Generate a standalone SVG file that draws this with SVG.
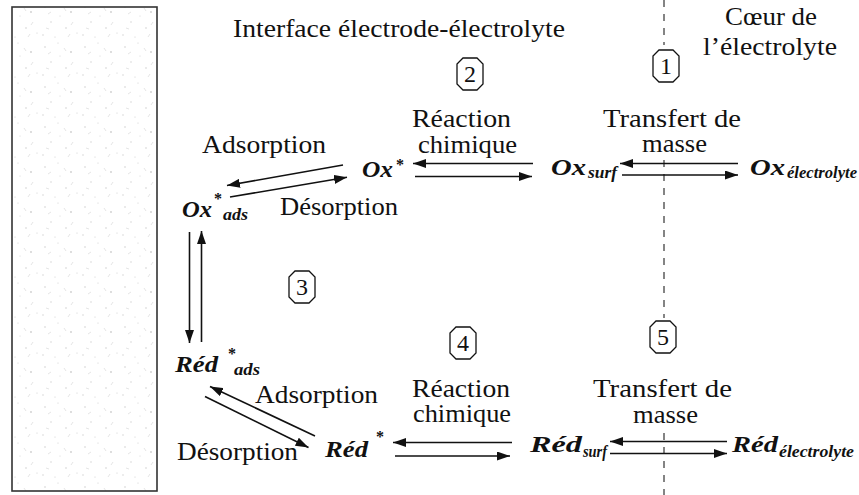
<svg xmlns="http://www.w3.org/2000/svg" width="859" height="495" viewBox="0 0 859 495">
<style>
text{font-family:'Liberation Serif','DejaVu Serif',serif;fill:#111}
.lbl{font-size:25px}
.sp{font-size:24px;font-weight:bold;font-style:italic}
.sub{font-size:16px;font-weight:bold;font-style:italic}
.ast{font-size:16px;font-weight:bold}
.num{font-size:24px;text-anchor:middle}
.oct{fill:#fff;stroke:#111;stroke-width:1.3}
.arr{stroke:#111;stroke-width:1.6;fill:none;marker-end:url(#ah)}
.dash{stroke:#666;stroke-width:1.6;stroke-dasharray:7 7;fill:none}
</style>
<defs>
<marker id="ah" markerUnits="userSpaceOnUse" markerWidth="14" markerHeight="9" refX="13" refY="4.5" orient="auto">
<path d="M0,0 L13,4.5 L0,9 Z" fill="#111"/>
</marker>
<path id="oct" d="M-7,-16 L7,-16 L13,-10 L13,10 L7,16 L-7,16 L-13,10 L-13,-10 Z"/>
<pattern id="speck" width="40" height="40" patternUnits="userSpaceOnUse">
<rect width="40" height="40" fill="#fff"/>
<g fill="#cfcfcf">
<circle cx="5" cy="7" r="0.8"/><circle cx="18" cy="3" r="0.6"/><circle cx="31" cy="12" r="0.9"/>
<circle cx="11" cy="22" r="0.7"/><circle cx="26" cy="28" r="0.8"/><circle cx="37" cy="33" r="0.6"/>
<circle cx="3" cy="35" r="0.7"/><circle cx="20" cy="16" r="0.5"/><circle cx="15" cy="37" r="0.6"/>
</g>
<g stroke="#dadada" stroke-width="0.7">
<path d="M8,14 l3,-2"/><path d="M24,8 l2,3"/><path d="M33,22 l-2,3"/><path d="M6,28 l3,1"/><path d="M28,37 l2,-3"/>
</g>
</pattern>
</defs>
<rect width="859" height="495" fill="#fff"/>

<g id="electrode">
<rect x="12" y="7" width="145" height="484" fill="url(#speck)" stroke="#333" stroke-width="1.6"/>
</g>

<g id="headers">
<text class="lbl" x="233" y="37" textLength="332" lengthAdjust="spacingAndGlyphs">Interface électrode-électrolyte</text>
<text class="lbl" x="725" y="25" textLength="92" lengthAdjust="spacingAndGlyphs">Cœur de</text>
<text class="lbl" x="703" y="55" textLength="134" lengthAdjust="spacingAndGlyphs">l’électrolyte</text>
</g>

<g id="boundary">
<path class="dash" d="M664,0 V45 M664,160 V318 M664,433 V495"/>
</g>

<g id="step1"><use href="#oct" class="oct" x="666" y="66"/><text class="num" x="666" y="74">1</text></g>
<g id="step2"><use href="#oct" class="oct" x="470" y="74"/><text class="num" x="470" y="82">2</text></g>
<g id="step3"><use href="#oct" class="oct" x="302" y="287"/><text class="num" x="302" y="295">3</text></g>
<g id="step4"><use href="#oct" class="oct" x="463" y="343"/><text class="num" x="463" y="351">4</text></g>
<g id="step5"><use href="#oct" class="oct" x="663" y="337"/><text class="num" x="663" y="345">5</text></g>

<g id="ox-star">
<text class="sp" x="362" y="177" textLength="31" lengthAdjust="spacingAndGlyphs">Ox</text>
<text class="ast" x="396" y="170">*</text>
</g>
<g id="ox-ads">
<text class="sp" x="182" y="217" textLength="30" lengthAdjust="spacingAndGlyphs">Ox</text>
<text class="ast" x="214" y="204">*</text>
<text class="sub" x="223" y="220" textLength="25" lengthAdjust="spacingAndGlyphs">ads</text>
</g>
<g id="ox-surf">
<text class="sp" x="551" y="175" textLength="35" lengthAdjust="spacingAndGlyphs">Ox</text>
<text class="sub" x="588" y="178" textLength="29" lengthAdjust="spacingAndGlyphs">surf</text>
</g>
<g id="ox-elec">
<text class="sp" x="750" y="175" textLength="35" lengthAdjust="spacingAndGlyphs">Ox</text>
<text class="sub" x="787" y="178" textLength="70" lengthAdjust="spacingAndGlyphs">électrolyte</text>
</g>
<g id="red-ads">
<text class="sp" x="175" y="372" textLength="43" lengthAdjust="spacingAndGlyphs">Réd</text>
<text class="ast" x="228" y="359">*</text>
<text class="sub" x="234" y="375" textLength="26" lengthAdjust="spacingAndGlyphs">ads</text>
</g>
<g id="red-star">
<text class="sp" x="325" y="457" textLength="43" lengthAdjust="spacingAndGlyphs">Réd</text>
<text class="ast" x="376" y="442">*</text>
</g>
<g id="red-surf">
<text class="sp" x="530" y="452" textLength="52" lengthAdjust="spacingAndGlyphs">Réd</text>
<text class="sub" x="583" y="457" textLength="24" lengthAdjust="spacingAndGlyphs">surf</text>
</g>
<g id="red-elec">
<text class="sp" x="732" y="452" textLength="46" lengthAdjust="spacingAndGlyphs">Réd</text>
<text class="sub" x="779" y="457" textLength="75" lengthAdjust="spacingAndGlyphs">électrolyte</text>
</g>

<g id="connectors">
<line class="arr" x1="533" y1="163.5" x2="413" y2="163.5"/>
<line class="arr" x1="415" y1="176.5" x2="532" y2="176.5"/>
<line class="arr" x1="738" y1="163.5" x2="620" y2="163.5"/>
<line class="arr" x1="622" y1="175" x2="738" y2="175"/>
<line class="arr" x1="343" y1="165" x2="227" y2="185.5"/>
<line class="arr" x1="230" y1="197" x2="347" y2="177.3"/>
<line class="arr" x1="189.5" y1="232" x2="189.5" y2="343"/>
<line class="arr" x1="201.5" y1="342" x2="201.5" y2="231"/>
<line class="arr" x1="315" y1="436" x2="210" y2="386.5"/>
<line class="arr" x1="205" y1="396.5" x2="308.5" y2="447.5"/>
<line class="arr" x1="512" y1="442.5" x2="393" y2="442.5"/>
<line class="arr" x1="395" y1="456" x2="510" y2="456"/>
<line class="arr" x1="727" y1="441.5" x2="610" y2="441.5"/>
<line class="arr" x1="610" y1="453.5" x2="727" y2="453.5"/>
</g>

<g id="labels">
<text class="lbl" x="202" y="153" textLength="124" lengthAdjust="spacingAndGlyphs">Adsorption</text>
<text class="lbl" x="280" y="215" textLength="118" lengthAdjust="spacingAndGlyphs">Désorption</text>
<text class="lbl" x="412" y="127" textLength="99" lengthAdjust="spacingAndGlyphs">Réaction</text>
<text class="lbl" x="418" y="153" textLength="99" lengthAdjust="spacingAndGlyphs">chimique</text>
<text class="lbl" x="603" y="127" textLength="138" lengthAdjust="spacingAndGlyphs">Transfert de</text>
<text class="lbl" x="642" y="152" textLength="65" lengthAdjust="spacingAndGlyphs">masse</text>
<text class="lbl" x="255" y="403" textLength="123" lengthAdjust="spacingAndGlyphs">Adsorption</text>
<text class="lbl" x="177" y="460" textLength="121" lengthAdjust="spacingAndGlyphs">Désorption</text>
<text class="lbl" x="412" y="397" textLength="98" lengthAdjust="spacingAndGlyphs">Réaction</text>
<text class="lbl" x="413" y="422" textLength="98" lengthAdjust="spacingAndGlyphs">chimique</text>
<text class="lbl" x="593" y="397" textLength="139" lengthAdjust="spacingAndGlyphs">Transfert de</text>
<text class="lbl" x="633" y="423" textLength="65" lengthAdjust="spacingAndGlyphs">masse</text>
</g>
</svg>
